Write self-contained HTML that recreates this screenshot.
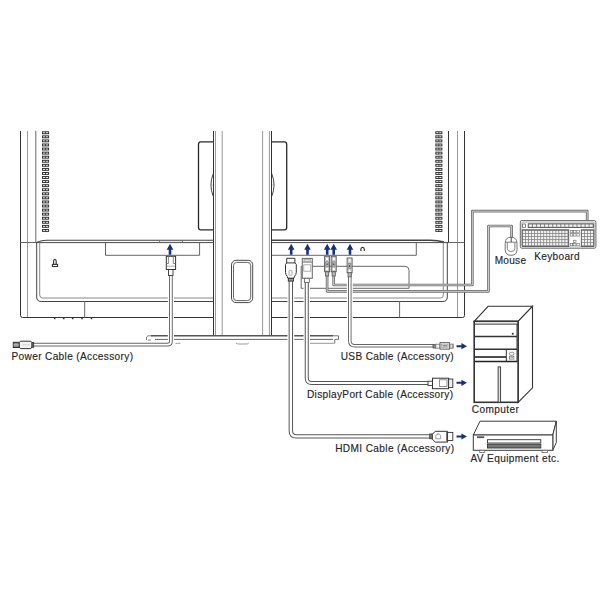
<!DOCTYPE html>
<html><head><meta charset="utf-8"><style>
html,body{margin:0;padding:0;background:#fff;width:600px;height:600px;overflow:hidden}
svg{display:block}
text{font-family:"Liberation Sans",sans-serif}
</style></head><body>
<svg width="600" height="600" viewBox="0 0 600 600">
<line x1="20.5" y1="131" x2="20.5" y2="315.5" stroke="#333" stroke-width="1"/>
<line x1="27.5" y1="131" x2="27.5" y2="317.5" stroke="#999" stroke-width="1"/>
<line x1="35.8" y1="131" x2="35.8" y2="242.5" stroke="#666" stroke-width="1"/>
<line x1="448.5" y1="131" x2="448.5" y2="242" stroke="#333" stroke-width="1"/>
<line x1="457.5" y1="131" x2="457.5" y2="317.5" stroke="#999" stroke-width="1"/>
<line x1="464.5" y1="131" x2="464.5" y2="315.5" stroke="#333" stroke-width="1"/>
<path d="M20.5,315.5 Q20.5,317.5 22.5,317.5 L213,317.5" stroke="#333" stroke-width="1" fill="none"/>
<path d="M272,317.5 L462.5,317.5 Q464.5,317.5 464.5,315.5" stroke="#333" stroke-width="1" fill="none"/>
<line x1="20.5" y1="242.5" x2="36" y2="242.5" stroke="#666" stroke-width="1"/>
<line x1="448" y1="242.5" x2="464.5" y2="242.5" stroke="#666" stroke-width="1"/>
<path d="M36.5,242.5 Q40,240.6 47,240.3 L213,240.3" stroke="#444" stroke-width="1.1" fill="none"/>
<path d="M272,240.3 L430,240.3 Q438,240.5 444,242" stroke="#444" stroke-width="1.4" fill="none"/>
<line x1="36" y1="242.6" x2="213" y2="242.6" stroke="#4a4a4a" stroke-width="1.0"/>
<line x1="272" y1="242.6" x2="448.5" y2="242.6" stroke="#4a4a4a" stroke-width="1.0"/>
<rect x="42.5" y="131.8" width="6.1" height="1.9" rx="0" stroke="#333" stroke-width="1.0" fill="none"/>
<line x1="45.55" y1="131.8" x2="45.55" y2="133.70000000000002" stroke="#333" stroke-width="0.9"/>
<rect x="42.5" y="135.87" width="6.1" height="1.9" rx="0" stroke="#333" stroke-width="1.0" fill="none"/>
<line x1="45.55" y1="135.87" x2="45.55" y2="137.77" stroke="#333" stroke-width="0.9"/>
<rect x="42.5" y="139.94" width="6.1" height="1.9" rx="0" stroke="#333" stroke-width="1.0" fill="none"/>
<line x1="45.55" y1="139.94" x2="45.55" y2="141.84" stroke="#333" stroke-width="0.9"/>
<rect x="42.5" y="144.01000000000002" width="6.1" height="1.9" rx="0" stroke="#333" stroke-width="1.0" fill="none"/>
<line x1="45.55" y1="144.01000000000002" x2="45.55" y2="145.91000000000003" stroke="#333" stroke-width="0.9"/>
<rect x="42.5" y="148.08" width="6.1" height="1.9" rx="0" stroke="#333" stroke-width="1.0" fill="none"/>
<line x1="45.55" y1="148.08" x2="45.55" y2="149.98000000000002" stroke="#333" stroke-width="0.9"/>
<rect x="42.5" y="152.15" width="6.1" height="1.9" rx="0" stroke="#333" stroke-width="1.0" fill="none"/>
<line x1="45.55" y1="152.15" x2="45.55" y2="154.05" stroke="#333" stroke-width="0.9"/>
<rect x="42.5" y="156.22000000000003" width="6.1" height="1.9" rx="0" stroke="#333" stroke-width="1.0" fill="none"/>
<line x1="45.55" y1="156.22000000000003" x2="45.55" y2="158.12000000000003" stroke="#333" stroke-width="0.9"/>
<rect x="42.5" y="160.29000000000002" width="6.1" height="1.9" rx="0" stroke="#333" stroke-width="1.0" fill="none"/>
<line x1="45.55" y1="160.29000000000002" x2="45.55" y2="162.19000000000003" stroke="#333" stroke-width="0.9"/>
<rect x="42.5" y="164.36" width="6.1" height="1.9" rx="0" stroke="#333" stroke-width="1.0" fill="none"/>
<line x1="45.55" y1="164.36" x2="45.55" y2="166.26000000000002" stroke="#333" stroke-width="0.9"/>
<rect x="42.5" y="168.43" width="6.1" height="1.9" rx="0" stroke="#333" stroke-width="1.0" fill="none"/>
<line x1="45.55" y1="168.43" x2="45.55" y2="170.33" stroke="#333" stroke-width="0.9"/>
<rect x="42.5" y="172.5" width="6.1" height="1.9" rx="0" stroke="#333" stroke-width="1.0" fill="none"/>
<line x1="45.55" y1="172.5" x2="45.55" y2="174.4" stroke="#333" stroke-width="0.9"/>
<rect x="42.5" y="176.57000000000002" width="6.1" height="1.9" rx="0" stroke="#333" stroke-width="1.0" fill="none"/>
<line x1="45.55" y1="176.57000000000002" x2="45.55" y2="178.47000000000003" stroke="#333" stroke-width="0.9"/>
<rect x="42.5" y="180.64000000000001" width="6.1" height="1.9" rx="0" stroke="#333" stroke-width="1.0" fill="none"/>
<line x1="45.55" y1="180.64000000000001" x2="45.55" y2="182.54000000000002" stroke="#333" stroke-width="0.9"/>
<rect x="42.5" y="184.71" width="6.1" height="1.9" rx="0" stroke="#333" stroke-width="1.0" fill="none"/>
<line x1="45.55" y1="184.71" x2="45.55" y2="186.61" stroke="#333" stroke-width="0.9"/>
<rect x="42.5" y="188.78000000000003" width="6.1" height="1.9" rx="0" stroke="#333" stroke-width="1.0" fill="none"/>
<line x1="45.55" y1="188.78000000000003" x2="45.55" y2="190.68000000000004" stroke="#333" stroke-width="0.9"/>
<rect x="42.5" y="192.85000000000002" width="6.1" height="1.9" rx="0" stroke="#333" stroke-width="1.0" fill="none"/>
<line x1="45.55" y1="192.85000000000002" x2="45.55" y2="194.75000000000003" stroke="#333" stroke-width="0.9"/>
<rect x="42.5" y="196.92000000000002" width="6.1" height="1.9" rx="0" stroke="#333" stroke-width="1.0" fill="none"/>
<line x1="45.55" y1="196.92000000000002" x2="45.55" y2="198.82000000000002" stroke="#333" stroke-width="0.9"/>
<rect x="42.5" y="200.99" width="6.1" height="1.9" rx="0" stroke="#333" stroke-width="1.0" fill="none"/>
<line x1="45.55" y1="200.99" x2="45.55" y2="202.89000000000001" stroke="#333" stroke-width="0.9"/>
<rect x="42.5" y="205.06" width="6.1" height="1.9" rx="0" stroke="#333" stroke-width="1.0" fill="none"/>
<line x1="45.55" y1="205.06" x2="45.55" y2="206.96" stroke="#333" stroke-width="0.9"/>
<rect x="42.5" y="209.13000000000002" width="6.1" height="1.9" rx="0" stroke="#333" stroke-width="1.0" fill="none"/>
<line x1="45.55" y1="209.13000000000002" x2="45.55" y2="211.03000000000003" stroke="#333" stroke-width="0.9"/>
<rect x="42.5" y="213.20000000000002" width="6.1" height="1.9" rx="0" stroke="#333" stroke-width="1.0" fill="none"/>
<line x1="45.55" y1="213.20000000000002" x2="45.55" y2="215.10000000000002" stroke="#333" stroke-width="0.9"/>
<rect x="42.5" y="217.27" width="6.1" height="1.9" rx="0" stroke="#333" stroke-width="1.0" fill="none"/>
<line x1="45.55" y1="217.27" x2="45.55" y2="219.17000000000002" stroke="#333" stroke-width="0.9"/>
<rect x="42.5" y="221.34000000000003" width="6.1" height="1.9" rx="0" stroke="#333" stroke-width="1.0" fill="none"/>
<line x1="45.55" y1="221.34000000000003" x2="45.55" y2="223.24000000000004" stroke="#333" stroke-width="0.9"/>
<rect x="42.5" y="225.41000000000003" width="6.1" height="1.9" rx="0" stroke="#333" stroke-width="1.0" fill="none"/>
<line x1="45.55" y1="225.41000000000003" x2="45.55" y2="227.31000000000003" stroke="#333" stroke-width="0.9"/>
<rect x="42.5" y="229.48000000000002" width="6.1" height="1.9" rx="0" stroke="#333" stroke-width="1.0" fill="none"/>
<line x1="45.55" y1="229.48000000000002" x2="45.55" y2="231.38000000000002" stroke="#333" stroke-width="0.9"/>
<rect x="435.8" y="131.8" width="6.1" height="1.9" rx="0" stroke="#333" stroke-width="1.0" fill="none"/>
<line x1="438.85" y1="131.8" x2="438.85" y2="133.70000000000002" stroke="#333" stroke-width="0.9"/>
<rect x="435.8" y="135.87" width="6.1" height="1.9" rx="0" stroke="#333" stroke-width="1.0" fill="none"/>
<line x1="438.85" y1="135.87" x2="438.85" y2="137.77" stroke="#333" stroke-width="0.9"/>
<rect x="435.8" y="139.94" width="6.1" height="1.9" rx="0" stroke="#333" stroke-width="1.0" fill="none"/>
<line x1="438.85" y1="139.94" x2="438.85" y2="141.84" stroke="#333" stroke-width="0.9"/>
<rect x="435.8" y="144.01000000000002" width="6.1" height="1.9" rx="0" stroke="#333" stroke-width="1.0" fill="none"/>
<line x1="438.85" y1="144.01000000000002" x2="438.85" y2="145.91000000000003" stroke="#333" stroke-width="0.9"/>
<rect x="435.8" y="148.08" width="6.1" height="1.9" rx="0" stroke="#333" stroke-width="1.0" fill="none"/>
<line x1="438.85" y1="148.08" x2="438.85" y2="149.98000000000002" stroke="#333" stroke-width="0.9"/>
<rect x="435.8" y="152.15" width="6.1" height="1.9" rx="0" stroke="#333" stroke-width="1.0" fill="none"/>
<line x1="438.85" y1="152.15" x2="438.85" y2="154.05" stroke="#333" stroke-width="0.9"/>
<rect x="435.8" y="156.22000000000003" width="6.1" height="1.9" rx="0" stroke="#333" stroke-width="1.0" fill="none"/>
<line x1="438.85" y1="156.22000000000003" x2="438.85" y2="158.12000000000003" stroke="#333" stroke-width="0.9"/>
<rect x="435.8" y="160.29000000000002" width="6.1" height="1.9" rx="0" stroke="#333" stroke-width="1.0" fill="none"/>
<line x1="438.85" y1="160.29000000000002" x2="438.85" y2="162.19000000000003" stroke="#333" stroke-width="0.9"/>
<rect x="435.8" y="164.36" width="6.1" height="1.9" rx="0" stroke="#333" stroke-width="1.0" fill="none"/>
<line x1="438.85" y1="164.36" x2="438.85" y2="166.26000000000002" stroke="#333" stroke-width="0.9"/>
<rect x="435.8" y="168.43" width="6.1" height="1.9" rx="0" stroke="#333" stroke-width="1.0" fill="none"/>
<line x1="438.85" y1="168.43" x2="438.85" y2="170.33" stroke="#333" stroke-width="0.9"/>
<rect x="435.8" y="172.5" width="6.1" height="1.9" rx="0" stroke="#333" stroke-width="1.0" fill="none"/>
<line x1="438.85" y1="172.5" x2="438.85" y2="174.4" stroke="#333" stroke-width="0.9"/>
<rect x="435.8" y="176.57000000000002" width="6.1" height="1.9" rx="0" stroke="#333" stroke-width="1.0" fill="none"/>
<line x1="438.85" y1="176.57000000000002" x2="438.85" y2="178.47000000000003" stroke="#333" stroke-width="0.9"/>
<rect x="435.8" y="180.64000000000001" width="6.1" height="1.9" rx="0" stroke="#333" stroke-width="1.0" fill="none"/>
<line x1="438.85" y1="180.64000000000001" x2="438.85" y2="182.54000000000002" stroke="#333" stroke-width="0.9"/>
<rect x="435.8" y="184.71" width="6.1" height="1.9" rx="0" stroke="#333" stroke-width="1.0" fill="none"/>
<line x1="438.85" y1="184.71" x2="438.85" y2="186.61" stroke="#333" stroke-width="0.9"/>
<rect x="435.8" y="188.78000000000003" width="6.1" height="1.9" rx="0" stroke="#333" stroke-width="1.0" fill="none"/>
<line x1="438.85" y1="188.78000000000003" x2="438.85" y2="190.68000000000004" stroke="#333" stroke-width="0.9"/>
<rect x="435.8" y="192.85000000000002" width="6.1" height="1.9" rx="0" stroke="#333" stroke-width="1.0" fill="none"/>
<line x1="438.85" y1="192.85000000000002" x2="438.85" y2="194.75000000000003" stroke="#333" stroke-width="0.9"/>
<rect x="435.8" y="196.92000000000002" width="6.1" height="1.9" rx="0" stroke="#333" stroke-width="1.0" fill="none"/>
<line x1="438.85" y1="196.92000000000002" x2="438.85" y2="198.82000000000002" stroke="#333" stroke-width="0.9"/>
<rect x="435.8" y="200.99" width="6.1" height="1.9" rx="0" stroke="#333" stroke-width="1.0" fill="none"/>
<line x1="438.85" y1="200.99" x2="438.85" y2="202.89000000000001" stroke="#333" stroke-width="0.9"/>
<rect x="435.8" y="205.06" width="6.1" height="1.9" rx="0" stroke="#333" stroke-width="1.0" fill="none"/>
<line x1="438.85" y1="205.06" x2="438.85" y2="206.96" stroke="#333" stroke-width="0.9"/>
<rect x="435.8" y="209.13000000000002" width="6.1" height="1.9" rx="0" stroke="#333" stroke-width="1.0" fill="none"/>
<line x1="438.85" y1="209.13000000000002" x2="438.85" y2="211.03000000000003" stroke="#333" stroke-width="0.9"/>
<rect x="435.8" y="213.20000000000002" width="6.1" height="1.9" rx="0" stroke="#333" stroke-width="1.0" fill="none"/>
<line x1="438.85" y1="213.20000000000002" x2="438.85" y2="215.10000000000002" stroke="#333" stroke-width="0.9"/>
<rect x="435.8" y="217.27" width="6.1" height="1.9" rx="0" stroke="#333" stroke-width="1.0" fill="none"/>
<line x1="438.85" y1="217.27" x2="438.85" y2="219.17000000000002" stroke="#333" stroke-width="0.9"/>
<rect x="435.8" y="221.34000000000003" width="6.1" height="1.9" rx="0" stroke="#333" stroke-width="1.0" fill="none"/>
<line x1="438.85" y1="221.34000000000003" x2="438.85" y2="223.24000000000004" stroke="#333" stroke-width="0.9"/>
<rect x="435.8" y="225.41000000000003" width="6.1" height="1.9" rx="0" stroke="#333" stroke-width="1.0" fill="none"/>
<line x1="438.85" y1="225.41000000000003" x2="438.85" y2="227.31000000000003" stroke="#333" stroke-width="0.9"/>
<rect x="435.8" y="229.48000000000002" width="6.1" height="1.9" rx="0" stroke="#333" stroke-width="1.0" fill="none"/>
<line x1="438.85" y1="229.48000000000002" x2="438.85" y2="231.38000000000002" stroke="#333" stroke-width="0.9"/>
<path d="M36.7,242.5 L36.7,297 Q36.7,301.5 41.2,301.5 L213,301.5" stroke="#444" stroke-width="1" fill="none"/>
<path d="M39.7,242.8 L39.7,295 Q39.7,298 42.7,298 L213,298" stroke="#888" stroke-width="1" fill="none"/>
<path d="M272,301.5 L442.8,301.5 Q447.3,301.5 447.3,297 L447.3,242.5" stroke="#444" stroke-width="1" fill="none"/>
<path d="M272,298 L440.3,298 Q443.3,298 443.3,295 L443.3,242.8" stroke="#888" stroke-width="1" fill="none"/>
<line x1="84.7" y1="301.5" x2="84.7" y2="317.5" stroke="#666" stroke-width="1"/>
<line x1="399.6" y1="301.5" x2="399.6" y2="317.5" stroke="#666" stroke-width="1"/>
<line x1="53.900000000000006" y1="318.6" x2="55.5" y2="318.6" stroke="#333" stroke-width="1.2"/>
<line x1="62.900000000000006" y1="318.6" x2="64.5" y2="318.6" stroke="#333" stroke-width="1.2"/>
<line x1="71.9" y1="318.6" x2="73.5" y2="318.6" stroke="#333" stroke-width="1.2"/>
<line x1="81.2" y1="318.6" x2="82.8" y2="318.6" stroke="#333" stroke-width="1.2"/>
<line x1="90.7" y1="318.6" x2="92.3" y2="318.6" stroke="#333" stroke-width="1.2"/>
<path d="M105.5,243 L105.5,255.3 L199.6,255.3 L199.6,243" stroke="#555" stroke-width="0.9" fill="none"/>
<path d="M272,255.3 L416.3,255.3 L416.3,243" stroke="#555" stroke-width="0.9" fill="none"/>
<path d="M159,240.5 L160,242.3 L182,242.3 L183,240.5" stroke="#666" stroke-width="0.8" fill="none"/>
<path d="M53.6,264.2 L53.6,261.2 Q53.6,259.3 54.9,259.3 Q56.2,259.3 56.2,261.2 L56.2,264.2" stroke="#3a3a3a" stroke-width="1.2" fill="none"/>
<rect x="52.4" y="264.4" width="5.2" height="2.1" rx="0" stroke="#333" stroke-width="1.1" fill="none"/>
<path d="M360.9,250.9 L360.9,249.3 Q360.9,247.4 362.6,247.4 Q364.3,247.4 364.3,249.3 L364.3,250.9" stroke="#333" stroke-width="1.2" fill="none"/>
<path d="M301.2,288.3 L301.2,266.3 L405,266.3 Q409,266.3 409,270.3 L409,288.3 L301.2,288.3" stroke="#666" stroke-width="1" fill="none"/>
<path d="M213.5,141.9 L200.8,141.9 Q198.5,141.9 198.5,144.2 L198.5,227.5 Q198.5,229.8 200.8,229.8 L213.5,229.8" stroke="#2a2a2a" stroke-width="1.3" fill="none"/>
<path d="M271.5,141.9 L284.4,141.9 Q286.7,141.9 286.7,144.2 L286.7,227.5 Q286.7,229.8 284.4,229.8 L271.5,229.8" stroke="#2a2a2a" stroke-width="1.3" fill="none"/>
<rect x="213.5" y="131" width="58" height="204.5" rx="0" stroke="none" stroke-width="0" fill="#fff"/>
<line x1="213.5" y1="131" x2="213.5" y2="335.5" stroke="#333" stroke-width="1"/>
<line x1="215.5" y1="131" x2="215.5" y2="335.5" stroke="#999" stroke-width="1"/>
<line x1="222.2" y1="131" x2="222.2" y2="335.5" stroke="#999" stroke-width="1"/>
<line x1="262.6" y1="131" x2="262.6" y2="335.5" stroke="#999" stroke-width="1"/>
<line x1="269.4" y1="131" x2="269.4" y2="335.5" stroke="#999" stroke-width="1"/>
<line x1="271.5" y1="131" x2="271.5" y2="335.5" stroke="#333" stroke-width="1"/>
<path d="M213.3,173.5 Q208.6,185 213.3,196.5" stroke="#333" stroke-width="0.9" fill="none"/>
<path d="M271.7,173.5 Q276.4,185 271.7,196.5" stroke="#333" stroke-width="0.9" fill="none"/>
<line x1="210.6" y1="185" x2="213" y2="185" stroke="#999" stroke-width="0.6"/>
<line x1="272" y1="185" x2="274.4" y2="185" stroke="#999" stroke-width="0.6"/>
<rect x="231.5" y="260.3" width="21.2" height="42.3" rx="4.5" stroke="#4a4a4a" stroke-width="1" fill="none"/>
<rect x="233.5" y="262.4" width="17.2" height="38.2" rx="3.2" stroke="#555" stroke-width="0.9" fill="none"/>
<line x1="151" y1="335.8" x2="333" y2="335.8" stroke="#555" stroke-width="1.5"/>
<line x1="155" y1="339.4" x2="333" y2="339.4" stroke="#666" stroke-width="1"/>
<path d="M146.5,340 L146.5,337 L148,335.8 L151,335.8 M148,340 L151,340" stroke="#666" stroke-width="0.8" fill="none"/>
<path d="M333,335.8 L338.5,335.8 L338.5,339.4 L334.8,339.4 L334.8,343.3" stroke="#666" stroke-width="0.9" fill="none"/>
<path d="M175.5,343.6 Q177,343.2 180.5,343.2" stroke="#999" stroke-width="1" fill="none"/>
<path d="M236,343 Q237,344 239,344 L246,344 Q248,344 248.7,343" stroke="#999" stroke-width="1" fill="none"/>
<path d="M309.8,343.3 L334.8,343.3" stroke="#999" stroke-width="1" fill="none"/>
<path d="M170.9,276 L170.9,341.2 Q170.9,344.6 167.5,344.6 L33,344.6" stroke="#fff" stroke-width="6.1" fill="none" stroke-linejoin="round"/>
<path d="M170.9,276 L170.9,341.2 Q170.9,344.6 167.5,344.6 L33,344.6" stroke="#666" stroke-width="3.7" fill="none" stroke-linejoin="round"/>
<path d="M170.9,276 L170.9,341.2 Q170.9,344.6 167.5,344.6 L33,344.6" stroke="#fff" stroke-width="1.8000000000000003" fill="none" stroke-linejoin="round"/>
<path d="M333.7,276 L333.7,285 L472.35,285 L472.35,211.2 L587.2,211.2 L587.2,220.5" stroke="#707070" stroke-width="2.7" fill="none" stroke-linejoin="round"/>
<path d="M333.7,276 L333.7,285 L472.35,285 L472.35,211.2 L587.2,211.2 L587.2,220.5" stroke="#d8d8d8" stroke-width="0.9" fill="none" stroke-linejoin="round"/>
<path d="M327.1,276 L327.1,291.35 L488.5,291.35 L488.5,226 L511.6,226 L511.6,237.5" stroke="#707070" stroke-width="2.7" fill="none" stroke-linejoin="round"/>
<path d="M327.1,276 L327.1,291.35 L488.5,291.35 L488.5,226 L511.6,226 L511.6,237.5" stroke="#d8d8d8" stroke-width="0.9" fill="none" stroke-linejoin="round"/>
<path d="M349.8,272 L349.8,340.8 Q349.8,345.8 354.8,345.8 L433.5,345.8" stroke="#fff" stroke-width="5.9" fill="none" stroke-linejoin="round"/>
<path d="M349.8,272 L349.8,340.8 Q349.8,345.8 354.8,345.8 L433.5,345.8" stroke="#666" stroke-width="3.5" fill="none" stroke-linejoin="round"/>
<path d="M349.8,272 L349.8,340.8 Q349.8,345.8 354.8,345.8 L433.5,345.8" stroke="#fff" stroke-width="1.6" fill="none" stroke-linejoin="round"/>
<path d="M306.75,278.3 L306.75,378 Q306.75,383 311.75,383 L428.5,383" stroke="#fff" stroke-width="6.4" fill="none" stroke-linejoin="round"/>
<path d="M306.75,278.3 L306.75,378 Q306.75,383 311.75,383 L428.5,383" stroke="#555" stroke-width="4.0" fill="none" stroke-linejoin="round"/>
<path d="M306.75,278.3 L306.75,378 Q306.75,383 311.75,383 L428.5,383" stroke="#fff" stroke-width="2.0" fill="none" stroke-linejoin="round"/>
<path d="M290.85,278.3 L290.85,430.8 Q290.85,436.4 296.45,436.4 L429.8,436.4" stroke="#fff" stroke-width="6.800000000000001" fill="none" stroke-linejoin="round"/>
<path d="M290.85,278.3 L290.85,430.8 Q290.85,436.4 296.45,436.4 L429.8,436.4" stroke="#555" stroke-width="4.4" fill="none" stroke-linejoin="round"/>
<path d="M290.85,278.3 L290.85,430.8 Q290.85,436.4 296.45,436.4 L429.8,436.4" stroke="#fff" stroke-width="2.4000000000000004" fill="none" stroke-linejoin="round"/>
<path d="M170,243.7 L173.3,249.7 L171.3,249.7 L171.3,254.8 L168.7,254.8 L168.7,249.7 L166.7,249.7 Z" fill="#17307f"/>
<path d="M291.2,243.7 L294.5,249.7 L292.5,249.7 L292.5,254.8 L289.9,254.8 L289.9,249.7 L287.9,249.7 Z" fill="#17307f"/>
<path d="M307.5,243.7 L310.8,249.7 L308.8,249.7 L308.8,254.8 L306.2,254.8 L306.2,249.7 L304.2,249.7 Z" fill="#17307f"/>
<path d="M327.2,243.7 L330.5,249.7 L328.5,249.7 L328.5,254.8 L325.9,254.8 L325.9,249.7 L323.9,249.7 Z" fill="#17307f"/>
<path d="M333.7,243.7 L337.0,249.7 L335.0,249.7 L335.0,254.8 L332.4,254.8 L332.4,249.7 L330.4,249.7 Z" fill="#17307f"/>
<path d="M350,243.7 L353.3,249.7 L351.3,249.7 L351.3,254.8 L348.7,254.8 L348.7,249.7 L346.7,249.7 Z" fill="#17307f"/>
<path d="M467,346.2 L461.4,343.09999999999997 L461.4,345.15 L456.5,345.15 L456.5,347.25 L461.4,347.25 L461.4,349.3 Z" fill="#17307f"/>
<path d="M467,382.8 L461.4,379.7 L461.4,381.75 L456.5,381.75 L456.5,383.85 L461.4,383.85 L461.4,385.90000000000003 Z" fill="#17307f"/>
<path d="M467,436.5 L461.4,433.4 L461.4,435.45 L456.5,435.45 L456.5,437.55 L461.4,437.55 L461.4,439.6 Z" fill="#17307f"/>
<rect x="166.3" y="256.3" width="9.3" height="13.2" rx="0" stroke="#333" stroke-width="1" fill="#fff"/>
<path d="M168.4,256.3 L168.4,263.5 L166.3,263.5 M173.3,256.3 L173.3,263.5 L175.6,263.5" stroke="#666" stroke-width="0.8" fill="none"/>
<line x1="167" y1="266.2" x2="175" y2="266.2" stroke="#999" stroke-width="0.8"/>
<rect x="168.5" y="269.5" width="4.5" height="6" rx="0" stroke="#333" stroke-width="0.9" fill="#fff"/>
<path d="M286.7,262.9 L286.7,258.3 L294.9,258.3 L294.9,262.9" stroke="#333" stroke-width="1" fill="#fff"/>
<path d="M286.7,262.9 L294.9,262.9 L296.3,264.5 L296.3,272.3 Q296.3,274.5 294.5,276.3 L293.9,278.3 L287.9,278.3 L287.2,276.3 Q285.5,274.5 285.5,272.3 L285.5,264.5 Z" stroke="#333" stroke-width="1" fill="#fff"/>
<rect x="289" y="270.4" width="3" height="4.9" rx="0.6" stroke="#999" stroke-width="0.8" fill="none"/>
<rect x="288.3" y="278.3" width="5.2" height="2.8" rx="0" stroke="#333" stroke-width="0.9" fill="#999"/>
<rect x="302.3" y="258.4" width="10" height="19.9" rx="0" stroke="#666" stroke-width="1" fill="#fff"/>
<line x1="302.3" y1="262.1" x2="312.3" y2="262.1" stroke="#666" stroke-width="0.9"/>
<rect x="304" y="259.3" width="6.6" height="2.1" rx="0" stroke="#999" stroke-width="0.7" fill="#e0e0e0"/>
<rect x="303.8" y="264.8" width="7" height="6.4" rx="0" stroke="#999" stroke-width="0.8" fill="none"/>
<rect x="304.4" y="278.3" width="4.9" height="4.1" rx="0" stroke="#666" stroke-width="0.9" fill="#fff"/>
<rect x="324.6" y="256.3" width="5" height="15.5" rx="0" stroke="#555" stroke-width="0.9" fill="#e4e4e4"/>
<rect x="325.70000000000005" y="257.2" width="2.8" height="3.2" rx="0" stroke="#aaa" stroke-width="0.6" fill="#fff"/>
<rect x="325.70000000000005" y="261.7" width="2.8" height="5.2" rx="0" stroke="#777" stroke-width="0.6" fill="#b8b8b8"/>
<rect x="326.6" y="263.5" width="1" height="1.6" rx="0" stroke="none" stroke-width="0" fill="#333"/>
<rect x="325.70000000000005" y="267.5" width="2.8" height="3.3" rx="0" stroke="#aaa" stroke-width="0.6" fill="#fff"/>
<rect x="325.5" y="271.8" width="3.2" height="4.2" rx="0" stroke="#555" stroke-width="0.8" fill="#bbb"/>
<rect x="331.2" y="256.3" width="5" height="15.5" rx="0" stroke="#555" stroke-width="0.9" fill="#e4e4e4"/>
<rect x="332.3" y="257.2" width="2.8" height="3.2" rx="0" stroke="#aaa" stroke-width="0.6" fill="#fff"/>
<rect x="332.3" y="261.7" width="2.8" height="5.2" rx="0" stroke="#777" stroke-width="0.6" fill="#b8b8b8"/>
<rect x="333.2" y="263.5" width="1" height="1.6" rx="0" stroke="none" stroke-width="0" fill="#333"/>
<rect x="332.3" y="267.5" width="2.8" height="3.3" rx="0" stroke="#aaa" stroke-width="0.6" fill="#fff"/>
<rect x="332.09999999999997" y="271.8" width="3.2" height="4.2" rx="0" stroke="#555" stroke-width="0.8" fill="#bbb"/>
<rect x="347.1" y="258" width="5" height="14.7" rx="0" stroke="#555" stroke-width="0.9" fill="#e4e4e4"/>
<rect x="348.20000000000005" y="258.9" width="2.8" height="3.2" rx="0" stroke="#aaa" stroke-width="0.6" fill="#fff"/>
<rect x="348.20000000000005" y="263.4" width="2.8" height="5.2" rx="0" stroke="#777" stroke-width="0.6" fill="#b8b8b8"/>
<rect x="349.1" y="265.2" width="1" height="1.6" rx="0" stroke="none" stroke-width="0" fill="#333"/>
<rect x="348.20000000000005" y="269.2" width="2.8" height="3.3" rx="0" stroke="#aaa" stroke-width="0.6" fill="#fff"/>
<rect x="348.0" y="272.7" width="3.2" height="4.2" rx="0" stroke="#555" stroke-width="0.8" fill="#bbb"/>
<rect x="13.3" y="342.3" width="6" height="5.2" rx="0" stroke="#333" stroke-width="1" fill="#888"/>
<line x1="13.5" y1="344.9" x2="19" y2="344.9" stroke="#ddd" stroke-width="0.8"/>
<path d="M19.3,342.6 L20.5,341.2 L30.8,341.2 L32,342.6 L32,347 L30.8,348.6 L20.5,348.6 L19.3,347 Z" stroke="#333" stroke-width="1" fill="#f4f4f4"/>
<line x1="22" y1="344.9" x2="30" y2="344.9" stroke="#ccc" stroke-width="0.8"/>
<rect x="32" y="342.4" width="1.7" height="4.9" rx="0" stroke="#333" stroke-width="0.8" fill="#777"/>
<rect x="433" y="344.4" width="2.8" height="3.6" rx="0" stroke="#555" stroke-width="0.8" fill="#888"/>
<rect x="435.8" y="344.2" width="4.2" height="4" rx="0" stroke="#777" stroke-width="0.8" fill="#f0f0f0"/>
<rect x="440" y="342.5" width="9.4" height="6.7" rx="0" stroke="#666" stroke-width="0.9" fill="#ddd"/>
<rect x="441.6" y="344.2" width="6.2" height="3.3" rx="0" stroke="#999" stroke-width="0.6" fill="#fafafa"/>
<line x1="442.5" y1="345.9" x2="447" y2="345.9" stroke="#444" stroke-width="1.0"/>
<rect x="449.4" y="344.1" width="3.8" height="4.1" rx="0" stroke="#666" stroke-width="0.8" fill="#bbb"/>
<line x1="451.3" y1="344.3" x2="451.3" y2="348" stroke="#eee" stroke-width="0.7"/>
<rect x="428" y="381.2" width="4.5" height="4.2" rx="0" stroke="#333" stroke-width="0.9" fill="#fff"/>
<rect x="432.5" y="378.2" width="16.1" height="10.5" rx="0" stroke="#333" stroke-width="1" fill="#fff"/>
<rect x="439.4" y="379.8" width="7.6" height="6.7" rx="0" stroke="#777" stroke-width="0.8" fill="none"/>
<rect x="448.6" y="379" width="4.2" height="8.6" rx="0" stroke="#333" stroke-width="0.9" fill="#eee"/>
<rect x="429.8" y="434" width="2.6" height="4.7" rx="0" stroke="#333" stroke-width="0.9" fill="#888"/>
<path d="M432.3,434.3 L435.2,431.3 L447.6,431.3 L447.6,442.1 L435.2,442.1 L432.3,439.1 Z" stroke="#333" stroke-width="1" fill="#fff"/>
<path d="M435.8,438.8 L435.8,435.6 Q435.8,434.7 436.7,434.7 L437.5,434.7 L437.5,433.8 L439,433.8 L439,434.7 L439.7,434.7 Q440.6,434.7 440.6,435.6 L440.6,438.8 Z" stroke="#888" stroke-width="0.8" fill="none"/>
<line x1="446.5" y1="431.8" x2="446.5" y2="441.6" stroke="#777" stroke-width="1.0"/>
<rect x="447.6" y="432.4" width="5.2" height="8.1" rx="0" stroke="#333" stroke-width="0.9" fill="#fff"/>
<path d="M505.2,243.5 Q505.2,237.2 511.1,237.2 Q517,237.2 517,243.5 L517,249.5 Q517,255.3 511.1,255.3 Q505.2,255.3 505.2,249.5 Z" stroke="#666" stroke-width="0.9" fill="#fff"/>
<path d="M505.2,242.2 L517,242.2" stroke="#666" stroke-width="0.8" fill="none"/>
<line x1="511.2" y1="237.2" x2="511.2" y2="242.2" stroke="#333" stroke-width="0.9"/>
<path d="M507.3,242.2 L507.3,248.5 Q507.3,251.5 511.1,251.5 Q514.9,251.5 514.9,248.5 L514.9,242.2" stroke="#666" stroke-width="0.8" fill="none"/>
<rect x="520.3" y="220.6" width="75.6" height="27.6" rx="1.5" stroke="#666" stroke-width="1.0" fill="#fff"/>
<rect x="521.9" y="222.1" width="72.4" height="24.6" rx="1" stroke="#999" stroke-width="0.7" fill="none"/>
<rect x="522.6" y="224" width="2.9" height="3.3" rx="0" stroke="#666" stroke-width="0.8" fill="none"/>
<rect x="528.2" y="223.8" width="65.2" height="3.7" rx="0" stroke="#555" stroke-width="0.9" fill="#888"/>
<rect x="528.9" y="224.5" width="3.0" height="2.3" rx="0" stroke="none" stroke-width="0" fill="#f2f2f2"/>
<rect x="532.9499999999999" y="224.5" width="3.0" height="2.3" rx="0" stroke="none" stroke-width="0" fill="#f2f2f2"/>
<rect x="537.0" y="224.5" width="3.0" height="2.3" rx="0" stroke="none" stroke-width="0" fill="#f2f2f2"/>
<rect x="541.05" y="224.5" width="3.0" height="2.3" rx="0" stroke="none" stroke-width="0" fill="#f2f2f2"/>
<rect x="545.1" y="224.5" width="3.0" height="2.3" rx="0" stroke="none" stroke-width="0" fill="#f2f2f2"/>
<rect x="549.15" y="224.5" width="3.0" height="2.3" rx="0" stroke="none" stroke-width="0" fill="#f2f2f2"/>
<rect x="553.1999999999999" y="224.5" width="3.0" height="2.3" rx="0" stroke="none" stroke-width="0" fill="#f2f2f2"/>
<rect x="557.25" y="224.5" width="3.0" height="2.3" rx="0" stroke="none" stroke-width="0" fill="#f2f2f2"/>
<rect x="561.3" y="224.5" width="3.0" height="2.3" rx="0" stroke="none" stroke-width="0" fill="#f2f2f2"/>
<rect x="565.35" y="224.5" width="3.0" height="2.3" rx="0" stroke="none" stroke-width="0" fill="#f2f2f2"/>
<rect x="569.4" y="224.5" width="3.0" height="2.3" rx="0" stroke="none" stroke-width="0" fill="#f2f2f2"/>
<rect x="573.4499999999999" y="224.5" width="3.0" height="2.3" rx="0" stroke="none" stroke-width="0" fill="#f2f2f2"/>
<rect x="577.5" y="224.5" width="3.0" height="2.3" rx="0" stroke="none" stroke-width="0" fill="#f2f2f2"/>
<rect x="581.55" y="224.5" width="3.0" height="2.3" rx="0" stroke="none" stroke-width="0" fill="#f2f2f2"/>
<rect x="585.6" y="224.5" width="3.0" height="2.3" rx="0" stroke="none" stroke-width="0" fill="#f2f2f2"/>
<rect x="589.65" y="224.5" width="3.0" height="2.3" rx="0" stroke="none" stroke-width="0" fill="#f2f2f2"/>
<rect x="522.2" y="229.8" width="46.6" height="16.6" rx="0" stroke="#555" stroke-width="0.9" fill="#888"/>
<rect x="522.9" y="230.9" width="2.2" height="2.2" rx="0" stroke="none" stroke-width="0" fill="#f4f4f4"/>
<rect x="525.93" y="230.9" width="2.2" height="2.2" rx="0" stroke="none" stroke-width="0" fill="#f4f4f4"/>
<rect x="528.9599999999999" y="230.9" width="2.2" height="2.2" rx="0" stroke="none" stroke-width="0" fill="#f4f4f4"/>
<rect x="531.99" y="230.9" width="2.2" height="2.2" rx="0" stroke="none" stroke-width="0" fill="#f4f4f4"/>
<rect x="535.02" y="230.9" width="2.2" height="2.2" rx="0" stroke="none" stroke-width="0" fill="#f4f4f4"/>
<rect x="538.05" y="230.9" width="2.2" height="2.2" rx="0" stroke="none" stroke-width="0" fill="#f4f4f4"/>
<rect x="541.0799999999999" y="230.9" width="2.2" height="2.2" rx="0" stroke="none" stroke-width="0" fill="#f4f4f4"/>
<rect x="544.11" y="230.9" width="2.2" height="2.2" rx="0" stroke="none" stroke-width="0" fill="#f4f4f4"/>
<rect x="547.14" y="230.9" width="2.2" height="2.2" rx="0" stroke="none" stroke-width="0" fill="#f4f4f4"/>
<rect x="550.17" y="230.9" width="2.2" height="2.2" rx="0" stroke="none" stroke-width="0" fill="#f4f4f4"/>
<rect x="553.1999999999999" y="230.9" width="2.2" height="2.2" rx="0" stroke="none" stroke-width="0" fill="#f4f4f4"/>
<rect x="556.23" y="230.9" width="2.2" height="2.2" rx="0" stroke="none" stroke-width="0" fill="#f4f4f4"/>
<rect x="559.26" y="230.9" width="2.2" height="2.2" rx="0" stroke="none" stroke-width="0" fill="#f4f4f4"/>
<rect x="562.29" y="230.9" width="2.2" height="2.2" rx="0" stroke="none" stroke-width="0" fill="#f4f4f4"/>
<rect x="565.3199999999999" y="230.9" width="2.2" height="2.2" rx="0" stroke="none" stroke-width="0" fill="#f4f4f4"/>
<rect x="522.9" y="233.95000000000002" width="2.2" height="2.2" rx="0" stroke="none" stroke-width="0" fill="#f4f4f4"/>
<rect x="525.93" y="233.95000000000002" width="2.2" height="2.2" rx="0" stroke="none" stroke-width="0" fill="#f4f4f4"/>
<rect x="528.9599999999999" y="233.95000000000002" width="2.2" height="2.2" rx="0" stroke="none" stroke-width="0" fill="#f4f4f4"/>
<rect x="531.99" y="233.95000000000002" width="2.2" height="2.2" rx="0" stroke="none" stroke-width="0" fill="#f4f4f4"/>
<rect x="535.02" y="233.95000000000002" width="2.2" height="2.2" rx="0" stroke="none" stroke-width="0" fill="#f4f4f4"/>
<rect x="538.05" y="233.95000000000002" width="2.2" height="2.2" rx="0" stroke="none" stroke-width="0" fill="#f4f4f4"/>
<rect x="541.0799999999999" y="233.95000000000002" width="2.2" height="2.2" rx="0" stroke="none" stroke-width="0" fill="#f4f4f4"/>
<rect x="544.11" y="233.95000000000002" width="2.2" height="2.2" rx="0" stroke="none" stroke-width="0" fill="#f4f4f4"/>
<rect x="547.14" y="233.95000000000002" width="2.2" height="2.2" rx="0" stroke="none" stroke-width="0" fill="#f4f4f4"/>
<rect x="550.17" y="233.95000000000002" width="2.2" height="2.2" rx="0" stroke="none" stroke-width="0" fill="#f4f4f4"/>
<rect x="553.1999999999999" y="233.95000000000002" width="2.2" height="2.2" rx="0" stroke="none" stroke-width="0" fill="#f4f4f4"/>
<rect x="556.23" y="233.95000000000002" width="2.2" height="2.2" rx="0" stroke="none" stroke-width="0" fill="#f4f4f4"/>
<rect x="559.26" y="233.95000000000002" width="2.2" height="2.2" rx="0" stroke="none" stroke-width="0" fill="#f4f4f4"/>
<rect x="562.29" y="233.95000000000002" width="2.2" height="2.2" rx="0" stroke="none" stroke-width="0" fill="#f4f4f4"/>
<rect x="565.3199999999999" y="233.95000000000002" width="2.2" height="2.2" rx="0" stroke="none" stroke-width="0" fill="#f4f4f4"/>
<rect x="522.9" y="237.0" width="2.2" height="2.2" rx="0" stroke="none" stroke-width="0" fill="#f4f4f4"/>
<rect x="525.93" y="237.0" width="2.2" height="2.2" rx="0" stroke="none" stroke-width="0" fill="#f4f4f4"/>
<rect x="528.9599999999999" y="237.0" width="2.2" height="2.2" rx="0" stroke="none" stroke-width="0" fill="#f4f4f4"/>
<rect x="531.99" y="237.0" width="2.2" height="2.2" rx="0" stroke="none" stroke-width="0" fill="#f4f4f4"/>
<rect x="535.02" y="237.0" width="2.2" height="2.2" rx="0" stroke="none" stroke-width="0" fill="#f4f4f4"/>
<rect x="538.05" y="237.0" width="2.2" height="2.2" rx="0" stroke="none" stroke-width="0" fill="#f4f4f4"/>
<rect x="541.0799999999999" y="237.0" width="2.2" height="2.2" rx="0" stroke="none" stroke-width="0" fill="#f4f4f4"/>
<rect x="544.11" y="237.0" width="2.2" height="2.2" rx="0" stroke="none" stroke-width="0" fill="#f4f4f4"/>
<rect x="547.14" y="237.0" width="2.2" height="2.2" rx="0" stroke="none" stroke-width="0" fill="#f4f4f4"/>
<rect x="550.17" y="237.0" width="2.2" height="2.2" rx="0" stroke="none" stroke-width="0" fill="#f4f4f4"/>
<rect x="553.1999999999999" y="237.0" width="2.2" height="2.2" rx="0" stroke="none" stroke-width="0" fill="#f4f4f4"/>
<rect x="556.23" y="237.0" width="2.2" height="2.2" rx="0" stroke="none" stroke-width="0" fill="#f4f4f4"/>
<rect x="559.26" y="237.0" width="2.2" height="2.2" rx="0" stroke="none" stroke-width="0" fill="#f4f4f4"/>
<rect x="562.29" y="237.0" width="2.2" height="2.2" rx="0" stroke="none" stroke-width="0" fill="#f4f4f4"/>
<rect x="565.3199999999999" y="237.0" width="2.2" height="2.2" rx="0" stroke="none" stroke-width="0" fill="#f4f4f4"/>
<rect x="522.9" y="240.05" width="2.2" height="2.2" rx="0" stroke="none" stroke-width="0" fill="#f4f4f4"/>
<rect x="525.93" y="240.05" width="2.2" height="2.2" rx="0" stroke="none" stroke-width="0" fill="#f4f4f4"/>
<rect x="528.9599999999999" y="240.05" width="2.2" height="2.2" rx="0" stroke="none" stroke-width="0" fill="#f4f4f4"/>
<rect x="531.99" y="240.05" width="2.2" height="2.2" rx="0" stroke="none" stroke-width="0" fill="#f4f4f4"/>
<rect x="535.02" y="240.05" width="2.2" height="2.2" rx="0" stroke="none" stroke-width="0" fill="#f4f4f4"/>
<rect x="538.05" y="240.05" width="2.2" height="2.2" rx="0" stroke="none" stroke-width="0" fill="#f4f4f4"/>
<rect x="541.0799999999999" y="240.05" width="2.2" height="2.2" rx="0" stroke="none" stroke-width="0" fill="#f4f4f4"/>
<rect x="544.11" y="240.05" width="2.2" height="2.2" rx="0" stroke="none" stroke-width="0" fill="#f4f4f4"/>
<rect x="547.14" y="240.05" width="2.2" height="2.2" rx="0" stroke="none" stroke-width="0" fill="#f4f4f4"/>
<rect x="550.17" y="240.05" width="2.2" height="2.2" rx="0" stroke="none" stroke-width="0" fill="#f4f4f4"/>
<rect x="553.1999999999999" y="240.05" width="2.2" height="2.2" rx="0" stroke="none" stroke-width="0" fill="#f4f4f4"/>
<rect x="556.23" y="240.05" width="2.2" height="2.2" rx="0" stroke="none" stroke-width="0" fill="#f4f4f4"/>
<rect x="559.26" y="240.05" width="2.2" height="2.2" rx="0" stroke="none" stroke-width="0" fill="#f4f4f4"/>
<rect x="562.29" y="240.05" width="2.2" height="2.2" rx="0" stroke="none" stroke-width="0" fill="#f4f4f4"/>
<rect x="565.3199999999999" y="240.05" width="2.2" height="2.2" rx="0" stroke="none" stroke-width="0" fill="#f4f4f4"/>
<rect x="522.9" y="243.1" width="2.2" height="2.2" rx="0" stroke="none" stroke-width="0" fill="#f4f4f4"/>
<rect x="525.93" y="243.1" width="2.2" height="2.2" rx="0" stroke="none" stroke-width="0" fill="#f4f4f4"/>
<rect x="528.9599999999999" y="243.1" width="2.2" height="2.2" rx="0" stroke="none" stroke-width="0" fill="#f4f4f4"/>
<rect x="531.99" y="243.1" width="2.2" height="2.2" rx="0" stroke="none" stroke-width="0" fill="#f4f4f4"/>
<rect x="535.02" y="243.1" width="2.2" height="2.2" rx="0" stroke="none" stroke-width="0" fill="#f4f4f4"/>
<rect x="538.05" y="243.1" width="2.2" height="2.2" rx="0" stroke="none" stroke-width="0" fill="#f4f4f4"/>
<rect x="541.0799999999999" y="243.1" width="2.2" height="2.2" rx="0" stroke="none" stroke-width="0" fill="#f4f4f4"/>
<rect x="544.11" y="243.1" width="2.2" height="2.2" rx="0" stroke="none" stroke-width="0" fill="#f4f4f4"/>
<rect x="547.14" y="243.1" width="2.2" height="2.2" rx="0" stroke="none" stroke-width="0" fill="#f4f4f4"/>
<rect x="550.17" y="243.1" width="2.2" height="2.2" rx="0" stroke="none" stroke-width="0" fill="#f4f4f4"/>
<rect x="553.1999999999999" y="243.1" width="2.2" height="2.2" rx="0" stroke="none" stroke-width="0" fill="#f4f4f4"/>
<rect x="556.23" y="243.1" width="2.2" height="2.2" rx="0" stroke="none" stroke-width="0" fill="#f4f4f4"/>
<rect x="559.26" y="243.1" width="2.2" height="2.2" rx="0" stroke="none" stroke-width="0" fill="#f4f4f4"/>
<rect x="562.29" y="243.1" width="2.2" height="2.2" rx="0" stroke="none" stroke-width="0" fill="#f4f4f4"/>
<rect x="565.3199999999999" y="243.1" width="2.2" height="2.2" rx="0" stroke="none" stroke-width="0" fill="#f4f4f4"/>
<rect x="569.6" y="229.8" width="10.6" height="16.6" rx="0" stroke="none" stroke-width="0" fill="#fff"/>
<rect x="570.2" y="230.5" width="2.5" height="2.4" rx="0" stroke="#666" stroke-width="0.6" fill="#fff"/>
<rect x="573.5" y="230.5" width="2.5" height="2.4" rx="0" stroke="#666" stroke-width="0.6" fill="#fff"/>
<rect x="576.8000000000001" y="230.5" width="2.5" height="2.4" rx="0" stroke="#666" stroke-width="0.6" fill="#fff"/>
<rect x="570.2" y="233.7" width="2.5" height="2.4" rx="0" stroke="#666" stroke-width="0.6" fill="#fff"/>
<rect x="573.5" y="233.7" width="2.5" height="2.4" rx="0" stroke="#666" stroke-width="0.6" fill="#fff"/>
<rect x="576.8000000000001" y="233.7" width="2.5" height="2.4" rx="0" stroke="#666" stroke-width="0.6" fill="#fff"/>
<rect x="573.5" y="240.2" width="2.5" height="2.4" rx="0" stroke="#666" stroke-width="0.6" fill="#fff"/>
<rect x="570.2" y="243.4" width="2.5" height="2.4" rx="0" stroke="#666" stroke-width="0.6" fill="#fff"/>
<rect x="573.5" y="243.4" width="2.5" height="2.4" rx="0" stroke="#666" stroke-width="0.6" fill="#fff"/>
<rect x="576.8000000000001" y="243.4" width="2.5" height="2.4" rx="0" stroke="#666" stroke-width="0.6" fill="#fff"/>
<rect x="581.3" y="229.8" width="12.5" height="16.6" rx="0" stroke="#555" stroke-width="0.9" fill="#888"/>
<rect x="581.9" y="230.9" width="2.2" height="2.2" rx="0" stroke="none" stroke-width="0" fill="#f4f4f4"/>
<rect x="584.9" y="230.9" width="2.2" height="2.2" rx="0" stroke="none" stroke-width="0" fill="#f4f4f4"/>
<rect x="587.9" y="230.9" width="2.2" height="2.2" rx="0" stroke="none" stroke-width="0" fill="#f4f4f4"/>
<rect x="590.9" y="230.9" width="2.2" height="2.2" rx="0" stroke="none" stroke-width="0" fill="#f4f4f4"/>
<rect x="581.9" y="233.95000000000002" width="2.2" height="2.2" rx="0" stroke="none" stroke-width="0" fill="#f4f4f4"/>
<rect x="584.9" y="233.95000000000002" width="2.2" height="2.2" rx="0" stroke="none" stroke-width="0" fill="#f4f4f4"/>
<rect x="587.9" y="233.95000000000002" width="2.2" height="2.2" rx="0" stroke="none" stroke-width="0" fill="#f4f4f4"/>
<rect x="590.9" y="233.95000000000002" width="2.2" height="2.2" rx="0" stroke="none" stroke-width="0" fill="#f4f4f4"/>
<rect x="581.9" y="237.0" width="2.2" height="2.2" rx="0" stroke="none" stroke-width="0" fill="#f4f4f4"/>
<rect x="584.9" y="237.0" width="2.2" height="2.2" rx="0" stroke="none" stroke-width="0" fill="#f4f4f4"/>
<rect x="587.9" y="237.0" width="2.2" height="2.2" rx="0" stroke="none" stroke-width="0" fill="#f4f4f4"/>
<rect x="590.9" y="237.0" width="2.2" height="2.2" rx="0" stroke="none" stroke-width="0" fill="#f4f4f4"/>
<rect x="581.9" y="240.05" width="2.2" height="2.2" rx="0" stroke="none" stroke-width="0" fill="#f4f4f4"/>
<rect x="584.9" y="240.05" width="2.2" height="2.2" rx="0" stroke="none" stroke-width="0" fill="#f4f4f4"/>
<rect x="587.9" y="240.05" width="2.2" height="2.2" rx="0" stroke="none" stroke-width="0" fill="#f4f4f4"/>
<rect x="590.9" y="240.05" width="2.2" height="2.2" rx="0" stroke="none" stroke-width="0" fill="#f4f4f4"/>
<rect x="581.9" y="243.1" width="2.2" height="2.2" rx="0" stroke="none" stroke-width="0" fill="#f4f4f4"/>
<rect x="584.9" y="243.1" width="2.2" height="2.2" rx="0" stroke="none" stroke-width="0" fill="#f4f4f4"/>
<rect x="587.9" y="243.1" width="2.2" height="2.2" rx="0" stroke="none" stroke-width="0" fill="#f4f4f4"/>
<rect x="590.9" y="243.1" width="2.2" height="2.2" rx="0" stroke="none" stroke-width="0" fill="#f4f4f4"/>
<path d="M474.2,321.3 L488.1,306.3 L532.5,306.3 L518.1,321.3 Z" stroke="#333" stroke-width="1.1" fill="#fff"/>
<path d="M518.1,321.3 L532.5,306.3 L532.5,387.8 L518.1,402.3 Z" stroke="#333" stroke-width="1.1" fill="#fff"/>
<rect x="474.2" y="321.3" width="43.9" height="81" rx="0" stroke="#333" stroke-width="1.6" fill="#fff"/>
<line x1="474.5" y1="324.1" x2="518" y2="324.1" stroke="#333" stroke-width="1"/>
<line x1="517" y1="324.1" x2="517" y2="361.5" stroke="#333" stroke-width="1"/>
<line x1="475" y1="336.5" x2="517" y2="336.5" stroke="#333" stroke-width="1.5"/>
<line x1="475" y1="349.2" x2="517" y2="349.2" stroke="#333" stroke-width="1.5"/>
<line x1="475" y1="357" x2="506.3" y2="357" stroke="#222" stroke-width="1.6"/>
<line x1="475" y1="361.4" x2="517.5" y2="361.4" stroke="#222" stroke-width="1.5"/>
<line x1="506.3" y1="349.2" x2="506.3" y2="361.4" stroke="#333" stroke-width="1"/>
<circle cx="512.75" cy="333.8" r="1.0" fill="#333"/>
<rect x="509.5" y="352.3" width="4.4" height="2.9" rx="1.2" stroke="#666" stroke-width="0.7" fill="none"/>
<rect x="509.5" y="356.2" width="4.4" height="2.9" rx="0" stroke="#666" stroke-width="0.7" fill="none"/>
<line x1="510.3" y1="357.6" x2="513.1" y2="357.6" stroke="#666" stroke-width="0.6"/>
<rect x="498.1" y="366.9" width="2.5" height="35.4" rx="0" stroke="#333" stroke-width="0.9" fill="#ddd"/>
<path d="M473.3,435 L480,421.2 L556.3,421.2 L552.8,435 Z" stroke="#3a3a3a" stroke-width="1.0" fill="#fff"/>
<path d="M552.8,435 L556.3,421.2 L556.3,442.5 L552.8,450.3 Z" stroke="#3a3a3a" stroke-width="1.0" fill="#fff"/>
<rect x="473.3" y="435" width="79.5" height="15.3" rx="0" stroke="#3a3a3a" stroke-width="1.0" fill="#fff"/>
<rect x="477" y="436.3" width="7.2" height="1.8" rx="0" stroke="#333" stroke-width="0" fill="#555"/>
<rect x="487.5" y="439.7" width="53.3" height="3.3" rx="0" stroke="#333" stroke-width="0.9" fill="#fff"/>
<rect x="487.5" y="444.2" width="53.3" height="3.8" rx="0" stroke="#333" stroke-width="0.9" fill="#777"/>
<rect x="479.7" y="450.3" width="5" height="2.2" rx="0" stroke="#666" stroke-width="0.8" fill="#fff"/>
<rect x="542" y="450.3" width="5.5" height="2.2" rx="0" stroke="#666" stroke-width="0.8" fill="#fff"/>
<text x="11.5" y="359.8" font-size="10.1" textLength="121.5" lengthAdjust="spacing" fill="#242424" stroke="#242424" stroke-width="0.14">Power Cable (Accessory)</text>
<text x="494.7" y="264.0" font-size="10.1" textLength="31.3" lengthAdjust="spacing" fill="#242424" stroke="#242424" stroke-width="0.14">Mouse</text>
<text x="534.3" y="260.0" font-size="10.1" textLength="45.3" lengthAdjust="spacing" fill="#242424" stroke="#242424" stroke-width="0.14">Keyboard</text>
<text x="340.7" y="359.7" font-size="10.1" textLength="113" lengthAdjust="spacing" fill="#242424" stroke="#242424" stroke-width="0.14">USB Cable (Accessory)</text>
<text x="307" y="398" font-size="10.1" textLength="146" lengthAdjust="spacing" fill="#242424" stroke="#242424" stroke-width="0.14">DisplayPort Cable (Accessory)</text>
<text x="335.2" y="451.5" font-size="10.1" textLength="118.8" lengthAdjust="spacing" fill="#242424" stroke="#242424" stroke-width="0.14">HDMI Cable (Accessory)</text>
<text x="471.8" y="412.6" font-size="10.1" textLength="47" lengthAdjust="spacing" fill="#242424" stroke="#242424" stroke-width="0.14">Computer</text>
<text x="470.5" y="462.4" font-size="10.1" textLength="88.8" lengthAdjust="spacing" fill="#242424" stroke="#242424" stroke-width="0.14">AV Equipment etc.</text>
</svg>
</body></html>
